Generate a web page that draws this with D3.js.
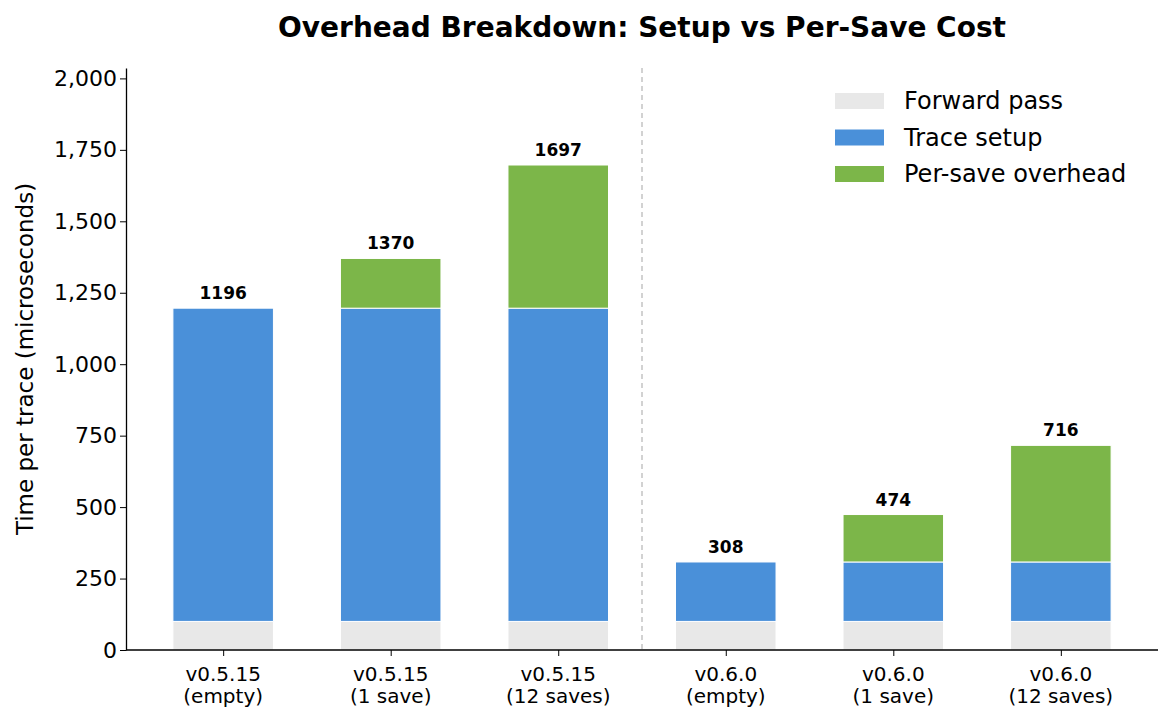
<!DOCTYPE html>
<html><head><meta charset="utf-8">
<script src="https://cdn.jsdelivr.net/npm/d3@7"></script>
<style>body{margin:0;background:#fff;font-family:"DejaVu Sans",sans-serif}</style>
</head><body><svg id="chart" width="1173" height="723"></svg>
<script>
var CATEGORIES = [['v0.5.15', '(empty)'], ['v0.5.15', '(1 save)'], ['v0.5.15', '(12 saves)'],
                  ['v0.6.0', '(empty)'], ['v0.6.0', '(1 save)'], ['v0.6.0', '(12 saves)']];
var FORWARD = [100, 100, 100, 100, 100, 100];
var SETUP = [1096, 1096, 1096, 208, 208, 208];
var PER_SAVE = [0, 174, 501, 0, 166, 408];
var TOTALS = [1196, 1370, 1697, 308, 474, 716];
var Y_TICKS = [0, 250, 500, 750, 1000, 1250, 1500, 1750, 2000];
var SERIES = [
    { name: 'Forward pass', values: FORWARD, color: '#e8e8e8' },
    { name: 'Trace setup', values: SETUP, color: '#4a90d9' },
    { name: 'Per-save overhead', values: PER_SAVE, color: '#7cb649' }
];

var svg = d3.select('#chart');
var mLeft = 126, mRight = 1158, mTop = 68, mBottom = 650;

var x = d3.scaleLinear().domain([-0.58, 5.58]).range([mLeft, mRight]);
var y = d3.scaleLinear().domain([0, d3.max(TOTALS) * 1.2]).range([mBottom, mTop]);
var bw = x(0.6) - x(0);

// stacked bars
var base = CATEGORIES.map(function() { return 0; });
SERIES.forEach(function(s) {
    s.values.forEach(function(v, i) {
        if (v > 0) {
            svg.append('rect')
               .attr('x', x(i) - bw / 2).attr('width', bw)
               .attr('y', y(base[i] + v)).attr('height', y(base[i]) - y(base[i] + v))
               .attr('fill', s.color).attr('stroke', '#fff').attr('stroke-width', 1);
        }
        base[i] += v;
    });
});

// totals
TOTALS.forEach(function(t, i) {
    svg.append('text').attr('x', x(i)).attr('y', y(t) - 9)
       .attr('text-anchor', 'middle').attr('font-size', 17).attr('font-weight', 'bold')
       .text(t);
});

// divider
svg.append('line').attr('x1', x(2.5)).attr('x2', x(2.5)).attr('y1', mTop).attr('y2', mBottom)
   .attr('stroke', '#bbb').attr('stroke-dasharray', '5,4').attr('stroke-width', 1.3);

// axes
var yAxis = svg.append('g').attr('transform', 'translate(' + mLeft + ',0)')
    .call(d3.axisLeft(y).tickValues(Y_TICKS).tickSize(6).tickSizeOuter(0));
yAxis.selectAll('text').attr('font-size', 22).attr('font-family', 'DejaVu Sans').attr('fill', '#000');
yAxis.select('.domain').attr('stroke-width', 1.3);

var xAxis = svg.append('g').attr('transform', 'translate(0,' + mBottom + ')')
    .call(d3.axisBottom(x).tickValues(d3.range(CATEGORIES.length)).tickSize(6).tickSizeOuter(0).tickFormat(''));
xAxis.select('.domain').attr('d', 'M' + mLeft + ',0H' + mRight).attr('stroke-width', 1.3);
CATEGORIES.forEach(function(c, i) {
    var t = svg.append('text').attr('x', x(i)).attr('text-anchor', 'middle')
       .attr('font-size', 20);
    t.append('tspan').attr('x', x(i)).attr('y', mBottom + 31).text(c[0]);
    t.append('tspan').attr('x', x(i)).attr('y', mBottom + 53).text(c[1]);
});

svg.append('text').attr('transform', 'translate(33,' + (mTop + mBottom) / 2 + ') rotate(-90)')
   .attr('text-anchor', 'middle').attr('font-size', 23).text('Time per trace (microseconds)');

svg.append('text').attr('x', (mLeft + mRight) / 2 + 0).attr('y', 37).attr('text-anchor', 'middle')
   .attr('font-size', 28).attr('font-weight', 'bold').text('Overhead Breakdown: Setup vs Per-Save Cost');

// legend
SERIES.forEach(function(s, k) {
    var ly = 101 + k * 36.5;
    svg.append('rect').attr('x', 835).attr('y', ly - 8).attr('width', 49).attr('height', 16).attr('fill', s.color);
    svg.append('text').attr('x', 904).attr('y', ly + 8).attr('font-size', 24).text(s.name);
});
</script></body></html>
